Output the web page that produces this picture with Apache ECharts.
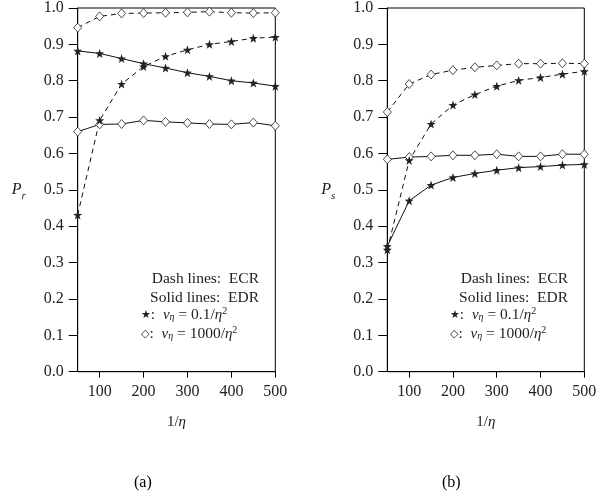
<!DOCTYPE html>
<html><head><meta charset="utf-8">
<script src="https://cdn.jsdelivr.net/npm/echarts@6/dist/echarts.min.js"></script>
<style>html,body{margin:0;padding:0;background:#fff}#c{width:607px;height:500px}</style>
</head><body><div id="c"></div>
<script>
var xVals = [50,100,150,200,250,300,350,400,450,500];
var xTicks = [100,200,300,400,500];
// Plot (a): P_r
var a_ecr_star = [0.431,0.691,0.791,0.839,0.867,0.885,0.900,0.908,0.917,0.920];
var a_edr_star = [0.882,0.875,0.861,0.847,0.835,0.822,0.812,0.800,0.794,0.785];
var a_ecr_diam = [0.946,0.977,0.985,0.986,0.987,0.988,0.990,0.987,0.986,0.987];
var a_edr_diam = [0.660,0.680,0.681,0.691,0.687,0.684,0.681,0.680,0.685,0.676];
// Plot (b): P_s
var b_ecr_star = [0.335,0.581,0.681,0.733,0.762,0.785,0.801,0.809,0.818,0.826];
var b_edr_star = [0.345,0.470,0.513,0.534,0.545,0.554,0.561,0.564,0.568,0.570];
var b_ecr_diam = [0.714,0.791,0.817,0.829,0.837,0.842,0.847,0.847,0.848,0.847];
var b_edr_diam = [0.584,0.590,0.592,0.595,0.595,0.598,0.592,0.592,0.598,0.598];

var SERIF = '"Liberation Serif", "DejaVu Serif", serif';
var TXT = '#222';
var STAR = 'path://M0,-10L2.35,-3.24L9.51,-3.09L3.8,1.24L5.88,8.09L0,4L-5.88,8.09L-3.8,1.24L-9.51,-3.09L-2.35,-3.24Z';

function pairs(ys){ return xVals.map(function(x,i){return [x, ys[i]];}); }
function mk(idx, ys, dashed, star){
  return {
    type:'line', xAxisIndex:idx, yAxisIndex:idx, data:pairs(ys),
    symbol: star ? STAR : 'diamond',
    symbolSize: star ? [9,9] : [8,9],
    showSymbol:true, animation:false,
    lineStyle:{color:'#111', width:1, type: dashed ? [5,4] : 'solid'},
    itemStyle:{color: star ? '#222' : '#fff', borderColor:'#222', borderWidth: star ? 0 : 0.8},
    z: 3
  };
}
var grids = [
  {left:77.7, top:6.3, width:197.6, height:365.4, show:true, borderColor:'#000', borderWidth:1},
  {left:387.3, top:6.3, width:197, height:365.4, show:true, borderColor:'#000', borderWidth:1}
];
function xAx(i){
  return {type:'value', gridIndex:i, min:50, max:500,
    name:'1/{i|η}', nameLocation:'middle', nameGap:43,
    nameTextStyle:{fontFamily:SERIF, fontSize:15, color:TXT,
      rich:{i:{fontFamily:SERIF, fontStyle:'italic', fontSize:15, color:TXT}}},
    axisLine:{lineStyle:{color:'#000', width:1}},
    axisTick:{show:true, inside:false, length:6, customValues:xTicks, lineStyle:{color:'#000'}},
    axisLabel:{customValues:xTicks, margin:12, fontFamily:SERIF, fontSize:16, color:TXT},
    splitLine:{show:false}};
}
function yAx(i, sub){
  return {type:'value', gridIndex:i, min:0, max:1, interval:0.1,
    name:'{i|P}{s|'+sub+'}', nameLocation:'middle', nameRotate:0, nameGap:52,
    nameTextStyle:{color:TXT, rich:{
      i:{fontFamily:SERIF, fontStyle:'italic', fontSize:16, color:TXT, verticalAlign:'bottom'},
      s:{fontFamily:SERIF, fontStyle:'italic', fontSize:11, color:TXT, verticalAlign:'bottom', padding:[0,0,-4,0]}}},
    axisLine:{lineStyle:{color:'#000', width:1}},
    axisTick:{show:true, inside:false, length:9, lineStyle:{color:'#000'}},
    axisLabel:{margin:14, fontFamily:SERIF, fontSize:16, color:TXT, formatter:function(v){return v.toFixed(1);}},
    splitLine:{show:false}};
}
var richLeg = {
  i:{fontFamily:SERIF, fontStyle:'italic', fontSize:15, color:TXT},
  s:{fontFamily:SERIF, fontStyle:'italic', fontSize:10, color:TXT, padding:[0,0,-5,0]},
  p:{fontFamily:SERIF, fontSize:10, color:TXT, padding:[0,0,8,0]},
  g:{fontFamily:'"DejaVu Sans"', fontSize:11, color:TXT}
};
function legend(dx){
  var base = {fontFamily:SERIF, fontSize:15.5, fill:TXT};
  return [
    {type:'text', right: 607-259-dx, top:271, style:Object.assign({text:'Dash lines:  ECR'}, base)},
    {type:'text', right: 607-259-dx, top:290, style:Object.assign({text:'Solid lines:  EDR'}, base)},
    {type:'text', left:141+dx, top:306, style:Object.assign({text:'{g|★}:  {i|v}{s|η} = 0.1/{i|η}{p|2}', rich:richLeg}, base)},
    {type:'text', left:141+dx, top:325, style:Object.assign({text:'{g|◇}:  {i|v}{s|η} = 1000/{i|η}{p|2}', rich:richLeg}, base)}
  ];
}
var graphics = legend(0).concat(legend(309)).concat([
  {type:'text', left:134, top:475, style:{text:'(a)', fontFamily:SERIF, fontSize:16, fill:'#000'}},
  {type:'text', left:442, top:475, style:{text:'(b)', fontFamily:SERIF, fontSize:16, fill:'#000'}}
]);
var chart = echarts.init(document.getElementById('c'), null, {renderer:'canvas'});
chart.setOption({
  backgroundColor:'#fff', animation:false,
  grid:grids,
  xAxis:[xAx(0), xAx(1)],
  yAxis:[yAx(0,'r'), yAx(1,'s')],
  series:[
    mk(0,a_ecr_diam,true,false), mk(0,a_edr_diam,false,false),
    mk(0,a_ecr_star,true,true), mk(0,a_edr_star,false,true),
    mk(1,b_ecr_diam,true,false), mk(1,b_edr_diam,false,false),
    mk(1,b_ecr_star,true,true), mk(1,b_edr_star,false,true)
  ],
  graphic:graphics
});
</script></body></html>
